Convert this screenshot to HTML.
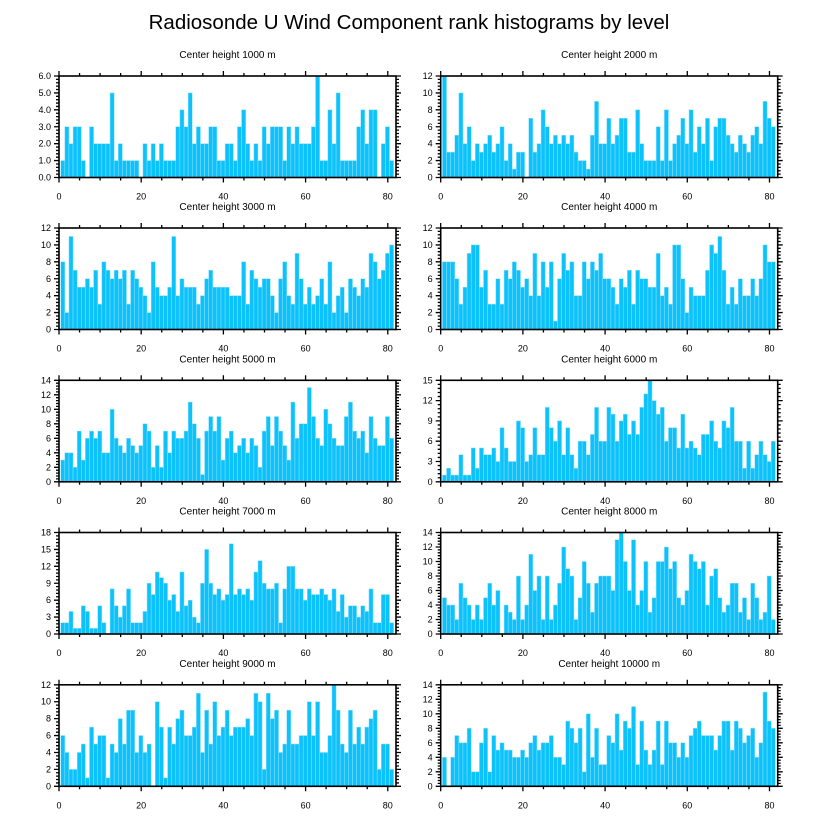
<!DOCTYPE html>
<html><head><meta charset="utf-8"><style>
html,body{margin:0;padding:0;background:#fff;}
svg{display:block;font-family:"Liberation Sans",sans-serif;}
</style></head><body>
<svg id="chart" width="818" height="824" viewBox="0 0 818 824" xmlns="http://www.w3.org/2000/svg">
<text x="409" y="29" font-size="20.5" text-anchor="middle" fill="#000">Radiosonde U Wind Component rank histograms by level</text>
</svg>
<script>
const titles = ["Center height 1000 m","Center height 2000 m","Center height 3000 m","Center height 4000 m","Center height 5000 m","Center height 6000 m","Center height 7000 m","Center height 8000 m","Center height 9000 m","Center height 10000 m"];
const yMaxes = [6,12,12,12,14,15,18,14,12,14];
const yMajorSteps = [1,2,2,2,2,3,3,2,2,2];
const xTickLabels = [0,20,40,60,80];
const counts1000 = [1,3,2,3,3,1,0,3,2,2,2,2,5,1,2,1,1,1,1,0,2,1,2,1,2,1,1,1,3,4,3,5,2,3,2,2,3,3,1,1,2,2,1,3,4,2,1,2,1,3,2,3,3,3,1,3,2,3,2,2,2,3,6,1,1,4,2,5,1,1,1,1,3,4,2,4,4,0,2,3,1];
const counts2000 = [12,3,3,5,10,4,6,2,4,3,4,5,3,4,6,2,4,1,3,3,0,7,3,4,8,6,4,5,4,5,4,5,3,2,2,1,5,9,4,4,7,4,5,7,7,3,3,8,4,2,2,2,6,2,8,2,4,5,7,4,8,3,6,4,7,2,6,7,7,5,4,3,5,4,3,5,6,4,9,7,6];
const counts3000 = [8,2,11,7,5,5,6,5,7,3,8,7,6,7,6,7,3,7,6,5,4,2,8,5,4,4,5,11,4,6,5,5,5,3,4,6,7,5,5,5,5,4,4,4,8,3,7,6,5,6,6,4,2,6,8,4,3,9,6,3,5,3,4,6,3,8,2,4,5,2,6,5,4,6,5,9,8,6,7,9,10];
const counts4000 = [8,8,8,6,3,5,9,10,10,5,7,3,3,6,3,7,6,8,7,5,6,4,9,4,8,5,8,1,6,9,7,8,4,4,8,6,8,7,9,6,6,5,3,6,5,7,3,7,6,6,5,5,9,4,5,3,10,10,6,2,5,4,4,4,7,10,9,11,7,3,5,3,6,4,4,6,4,6,10,8,8];
const counts5000 = [3,4,4,2,7,3,6,7,6,7,4,4,10,6,5,4,6,5,4,5,8,7,2,5,2,7,4,7,6,6,7,11,8,6,1,7,9,7,9,3,6,7,4,5,6,4,6,5,2,7,9,5,9,7,5,3,11,6,8,8,13,9,6,5,10,8,6,5,5,9,11,7,6,7,4,9,6,5,5,9,6];
const counts6000 = [1,2,1,1,4,1,1,5,2,5,4,4,5,3,8,5,3,3,9,8,3,4,8,4,4,11,8,6,9,4,8,4,2,6,6,4,7,11,6,6,11,10,6,9,10,7,9,7,11,13,15,12,10,11,6,8,8,5,10,5,6,5,4,7,7,9,6,5,9,8,11,6,6,2,6,2,4,6,4,3,6];
const counts7000 = [2,2,4,1,1,5,4,1,1,5,2,0,8,5,3,5,8,2,2,2,4,9,7,11,10,9,6,7,4,11,5,6,3,2,9,15,9,7,8,6,7,16,7,8,7,8,6,11,13,9,8,8,9,2,8,12,12,8,8,6,8,7,7,8,7,6,8,4,7,3,5,5,3,5,4,8,2,2,7,7,2];
const counts8000 = [5,4,4,2,7,5,4,2,4,2,5,7,4,6,0,4,3,2,8,2,4,11,6,8,2,8,2,4,7,12,9,8,2,5,10,7,3,7,8,8,8,6,13,14,10,6,13,4,6,10,3,5,10,10,12,9,10,5,4,6,11,10,9,10,4,8,9,5,3,4,7,7,3,5,2,7,5,2,3,8,2];
const counts9000 = [6,4,2,2,4,5,1,7,5,6,6,1,5,4,8,5,9,9,4,6,4,5,0,10,7,1,7,5,8,9,6,6,7,11,4,9,5,10,6,7,9,6,7,7,7,8,6,11,10,2,11,8,9,4,5,9,5,5,6,6,10,6,10,4,4,6,12,9,5,4,9,5,7,5,7,8,9,2,5,5,2];
const counts10000 = [4,0,4,7,6,6,8,2,2,6,8,2,7,5,6,5,5,4,4,5,4,6,7,5,6,6,7,4,4,3,9,8,6,8,2,10,4,8,3,3,7,6,10,5,9,8,11,3,9,5,3,5,9,3,9,6,6,4,6,4,7,8,9,7,7,7,5,7,9,9,5,9,8,6,7,8,4,6,13,9,8];
const allCounts = [counts1000,counts2000,counts3000,counts4000,counts5000,counts6000,counts7000,counts8000,counts9000,counts10000];

const NS = "http://www.w3.org/2000/svg";
const svg = document.getElementById("chart");
const X_MAX = 82;
const colX = [59, 440.7];
const PW = 337, PH = 101.5;
const rowY = [76, 228, 380.3, 532.5, 684.8];

function mk(tag, attrs, parent) {
  const e = document.createElementNS(NS, tag);
  for (const k in attrs) e.setAttribute(k, attrs[k]);
  (parent || svg).appendChild(e);
  return e;
}

allCounts.forEach((counts, p) => {
  const x0 = colX[p % 2], y0 = rowY[Math.floor(p / 2)];
  const ymax = yMaxes[p], step = yMajorSteps[p];
  const xs = v => x0 + v / X_MAX * PW;
  const ys = v => y0 + PH - v / ymax * PH;
  const g = mk("g", {});
  
  

  const t = mk("text", {x: x0 + PW / 2, y: y0 - 18, "font-size": 10, "text-anchor": "middle", fill: "#000"}, g);
  t.textContent = titles[p];
  
  

  counts.forEach((c, i) => {
    if (c <= 0) return;
    const r = mk("rect", {x: xs(i + 0.42), y: ys(c), width: xs(i + 1.42) - xs(i + 0.42), height: ys(0) - ys(c), fill: "#0cc2fb", stroke: "#8fe0ff", "stroke-width": 0.5}, g);
    
    
  });

  const frame = mk("rect", {x: x0, y: y0, width: PW, height: PH, fill: "none", stroke: "#000", "stroke-width": 1.6}, g);
  
  

  let ticks = "";
  for (let v = 0; v <= X_MAX; v += 5) {
    const major = v % 20 === 0, L = major ? 5 : 3, x = xs(v);
    ticks += `M${x},${y0 + PH}v${L}M${x},${y0}v${-L}`;
  }
  const minor = step / 5;
  for (let k = 0; k * minor <= ymax + 1e-9; k++) {
    const v = k * minor, major = k % 5 === 0, L = major ? 5 : 3, y = ys(v);
    ticks += `M${x0},${y}h${-L}M${x0 + PW},${y}h${L}`;
  }
  const tk = mk("path", {d: ticks, stroke: "#000", "stroke-width": 1.3, fill: "none"}, g);
  
  

  xTickLabels.forEach(v => {
    const lt = mk("text", {x: xs(v), y: y0 + PH + 22, "font-size": 9, "text-anchor": "middle", fill: "#000"}, g);
    lt.textContent = v;
    
    
  });
  for (let v = 0; v <= ymax + 1e-9; v += step) {
    const lt = mk("text", {x: x0 - 8, y: ys(v) + 3, "font-size": 9, "text-anchor": "end", fill: "#000"}, g);
    lt.textContent = ymax === 6 ? v.toFixed(1) : v;
    
    
  }
});
</script>
</body></html>
